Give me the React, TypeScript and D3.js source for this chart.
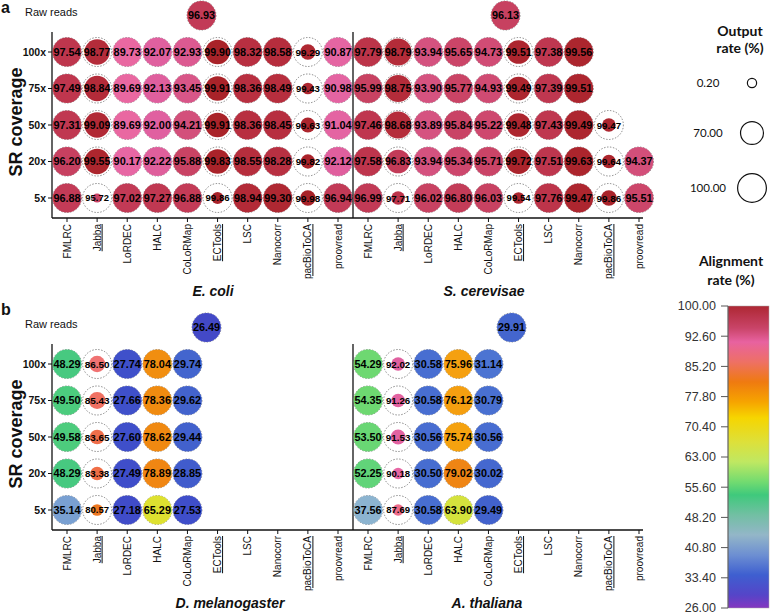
import React from 'react';
import * as d3 from 'd3';

// ---------- data ----------
const tools = ['FMLRC', 'Jabba', 'LoRDEC', 'HALC', 'CoLoRMap', 'ECTools', 'LSC', 'Nanocorr', 'pacBioToCA', 'proovread'];
const underlinedTools = ['Jabba', 'ECTools', 'pacBioToCA'];
const coverages = ['100x', '75x', '50x', '20x', '5x'];

const ecoliAlign = [
  [97.54, 98.77, 89.73, 92.07, 92.93, 99.90, 98.32, 98.58, 99.29, 90.87],
  [97.49, 98.84, 89.69, 92.13, 93.45, 99.91, 98.36, 98.49, 99.43, 90.98],
  [97.31, 99.09, 89.69, 92.00, 94.21, 99.91, 98.36, 98.45, 99.63, 91.04],
  [96.20, 99.55, 90.17, 92.22, 95.88, 99.83, 98.55, 98.28, 99.82, 92.12],
  [96.88, 95.72, 97.02, 97.27, 96.88, 99.86, 98.94, 99.30, 99.98, 96.94],
];
const ecoliOutput = [
  [100, 82, 100, 100, 100, 78, 100, 100, 31, 100],
  [100, 82, 100, 100, 100, 78, 100, 100, 13, 100],
  [100, 82, 100, 100, 100, 78, 100, 100, 29, 100],
  [100, 82, 100, 100, 100, 78, 100, 100, 26, 100],
  [100, 0.2, 100, 100, 100, 15, 100, 100, 31, 100],
];
const ecoliRaw = 96.93;

const scerAlign = [
  [97.79, 98.79, 93.94, 95.65, 94.73, 99.51, 97.38, 99.56, null, null],
  [95.99, 98.75, 93.90, 95.77, 94.93, 99.49, 97.39, 99.51, null, null],
  [97.46, 98.68, 93.89, 95.84, 95.22, 99.48, 97.43, 99.49, 99.47, null],
  [97.58, 96.83, 93.94, 95.34, 95.71, 99.72, 97.51, 99.63, 99.64, 94.37],
  [96.99, 97.71, 96.02, 96.80, 96.03, 99.54, 97.76, 99.47, 99.86, 95.51],
];
const scerOutput = [
  [100, 91, 100, 100, 100, 74, 100, 100, null, null],
  [100, 91, 100, 100, 100, 74, 100, 100, null, null],
  [100, 91, 100, 100, 100, 74, 100, 100, 23, null],
  [100, 74, 100, 100, 100, 80, 100, 100, 23, 100],
  [100, 23, 100, 100, 100, 13, 100, 100, 33, 100],
];
const scerRaw = 96.13;

const dmelAlign = [
  [48.29, 86.50, 27.74, 78.04, 29.74, null, null, null, null, null],
  [49.50, 85.43, 27.66, 78.36, 29.62, null, null, null, null, null],
  [49.58, 83.65, 27.60, 78.62, 29.44, null, null, null, null, null],
  [48.29, 83.38, 27.49, 78.89, 28.85, null, null, null, null, null],
  [35.14, 80.57, 27.18, 65.29, 27.53, null, null, null, null, null],
];
const dmelOutput = [
  [100, 36, 100, 100, 100, null, null, null, null, null],
  [100, 39, 100, 100, 100, null, null, null, null, null],
  [100, 28, 100, 100, 100, null, null, null, null, null],
  [100, 23, 100, 100, 100, null, null, null, null, null],
  [100, 13, 100, 100, 100, null, null, null, null, null],
];
const dmelRaw = 26.49;

const athaAlign = [
  [54.29, 92.02, 30.58, 75.96, 31.14, null, null, null, null, null],
  [54.35, 91.26, 30.58, 76.12, 30.79, null, null, null, null, null],
  [53.50, 91.53, 30.56, 75.74, 30.56, null, null, null, null, null],
  [52.25, 90.18, 30.50, 79.02, 30.02, null, null, null, null, null],
  [37.56, 87.69, 30.58, 63.90, 29.49, null, null, null, null, null],
];
const athaOutput = [
  [100, 23, 100, 100, 100, null, null, null, null, null],
  [100, 23, 100, 100, 100, null, null, null, null, null],
  [100, 29, 100, 100, 100, null, null, null, null, null],
  [100, 12, 100, 100, 100, null, null, null, null, null],
  [100, 12, 100, 100, 100, null, null, null, null, null],
];
const athaRaw = 29.91;

// colour of circles (alignment rate)
const colorStopValues = [26, 27.5, 29.5, 31, 35, 37.5, 42, 46, 48.5, 52, 54.5, 60, 64, 66, 71, 76, 78.5, 80.5, 83.5, 86.5, 88, 90, 92, 93, 94, 95, 96, 97, 98, 99, 100];
const colorStopColors = ['#4546c6', '#3f4eca', '#4262cd', '#4a72d2', '#789fd2', '#8cb4d0', '#8fbcc0', '#5cc590', '#45c97f', '#5fd47a', '#6fd870', '#b0e560', '#d6e23c', '#e2e02a', '#f5d000', '#f5a010', '#f08a10', '#ee7820', '#f06e48', '#f07272', '#ec6a90', '#e868a4', '#e060a0', '#dc5a90', '#d4527e', '#d04a72', '#c84262', '#c23a56', '#bb3246', '#b22a36', '#a82228'];

// colourbar gradient (as drawn in the legend)
const barStopValues = [100, 99.5, 94.6, 91.2, 86.3, 81.4, 76.5, 72.6, 66.7, 61.8, 56.9, 53.7, 48.8, 43.9, 39.0, 34.1, 29.2, 26];
const barStopColors = ['#ad2a36', '#b02a38', '#c94468', '#e862a0', '#ee7065', '#ef7a10', '#f6a400', '#f6d500', '#dde03a', '#bfe862', '#72db70', '#3fc97c', '#72bfa3', '#93b6c8', '#6d8fd2', '#3e5fd0', '#5545c8', '#8436c0'];

const alignTicks = [100, 92.6, 85.2, 77.8, 70.4, 63, 55.6, 48.2, 40.8, 33.4, 26];
const outputLegend = [0.2, 70, 100];

// ---------- layout ----------
const W = 770;
const H = 615;
const colX0 = [52, 353];
const rowY0 = [32, 344];
const PANEL_H = 186;
const FONT = '"Liberation Sans", Arial, Helvetica, sans-serif';
const LEG_FONT = 'Lato, "Open Sans", sans-serif';

const panels = [
  { name: 'E. coli', align: ecoliAlign, output: ecoliOutput, raw: ecoliRaw, col: 0, row: 0, titleX: 213, rawDx: -1 },
  { name: 'S. cerevisae', align: scerAlign, output: scerOutput, raw: scerRaw, col: 1, row: 0, titleX: 484, rawDx: 2 },
  { name: 'D. melanogaster', align: dmelAlign, output: dmelOutput, raw: dmelRaw, col: 0, row: 1, titleX: 230, rawDx: 4 },
  { name: 'A. thaliana', align: athaAlign, output: athaOutput, raw: athaRaw, col: 1, row: 1, titleX: 487, rawDx: 8 },
];

const rScale = d3.scaleLinear().domain([0, 100]).range([4.6, 14.4]);
const fScale = d3.scaleLinear().domain([0, 100]).range([9.4, 10.9]);
const color = d3
  .scaleLinear<string>()
  .domain(colorStopValues)
  .range(colorStopColors)
  .interpolate(d3.interpolateRgb)
  .clamp(true);
const RING = 14.5;

function Ring() {
  return <circle r={RING} fill="none" stroke="#555" strokeWidth={0.7} strokeDasharray="1.4,1.6" />;
}

function Panel({ p }: { p: (typeof panels)[number] }) {
  const x0 = colX0[p.col];
  const y0 = rowY0[p.row];
  const axisY = y0 + PANEL_H;
  const x = d3.scalePoint<string>().domain(tools).range([x0 + 15, x0 + 286]);
  const y = d3.scalePoint<string>().domain(coverages).range([y0 + 20, y0 + 166]);
  const axisEnd = p.col === 0 ? x0 + 301 : x0 + 290;
  const rawX = x0 + 150.5 + p.rawDx;
  const rawY = y0 - 16.5;
  const cells: any[] = [];
  coverages.forEach((cov, i) => {
    tools.forEach((t, j) => {
      const a = p.align[i][j];
      const o = p.output[i][j];
      if (a == null || o == null) return;
      cells.push({ cov, t, a, o });
    });
  });
  return (
    <g>
      {/* axes */}
      <line x1={x0} x2={x0} y1={y0} y2={axisY} stroke="#111" strokeWidth={1.3} />
      <line x1={x0} x2={axisEnd} y1={axisY} y2={axisY} stroke="#111" strokeWidth={1.3} />
      {tools.map((t) => (
        <g key={t} transform={`translate(${x(t)},${axisY})`}>
          <line y1={0} y2={4} stroke="#111" strokeWidth={1} />
          <text
            transform="translate(0,6) rotate(-90)"
            textAnchor="end"
            dy="0.35em"
            fontSize={10}
            fontFamily={FONT}
            fill="#111"
            style={underlinedTools.includes(t) ? { textDecoration: 'underline' } : undefined}
          >
            {t}
          </text>
        </g>
      ))}
      {p.col === 0 &&
        coverages.map((c) => (
          <g key={c} transform={`translate(${x0},${y(c)})`}>
            <line x1={-4} x2={0} stroke="#111" strokeWidth={1} />
            <text x={-6} dy="0.35em" textAnchor="end" fontSize={10.5} fontWeight="bold" fontFamily={FONT} fill="#111">
              {c}
            </text>
          </g>
        ))}
      {/* cells */}
      {cells.map((c) => (
        <g key={c.cov + c.t} transform={`translate(${x(c.t)},${y(c.cov)})`}>
          <Ring />
          <circle r={rScale(c.o)} fill={color(c.a)} />
          <text
            textAnchor="middle"
            dy="0.36em"
            fontSize={fScale(c.o)}
            fontWeight="bold"
            fontFamily={FONT}
            fill="#000"
          >
            {c.a.toFixed(2)}
          </text>
        </g>
      ))}
      {/* raw reads */}
      <g transform={`translate(${rawX},${rawY})`}>
        <Ring />
        <circle r={rScale(100)} fill={color(p.raw)} />
        <text textAnchor="middle" dy="0.36em" fontSize={10.9} fontWeight="bold" fontFamily={FONT} fill="#000">
          {p.raw.toFixed(2)}
        </text>
      </g>
      {/* title */}
      <text
        x={p.titleX}
        y={axisY + 78}
        textAnchor="middle"
        fontSize={14}
        fontWeight="bold"
        fontStyle="italic"
        fontFamily={FONT}
        fill="#111"
      >
        {p.name}
      </text>
    </g>
  );
}

export default function App() {
  const barY = d3.scaleLinear().domain([26, 100]).range([608, 306]);
  const rowLetters = ['a', 'b'];
  const letterY = [13, 315];
  const rawLabelY = [16, 328];
  const legendYs = [83, 133, 188];
  return (
    <svg
      width={W}
      height={H}
      style={{ position: 'absolute', left: 0, top: 0, background: '#fff' }}
      xmlns="http://www.w3.org/2000/svg"
    >
      <defs>
        <linearGradient id="alignGrad" x1="0" y1="0" x2="0" y2="1">
          {barStopValues.map((v, i) => (
            <stop key={i} offset={`${((100 - v) / 74) * 100}%`} stopColor={barStopColors[i]} />
          ))}
        </linearGradient>
      </defs>
      <rect width={W} height={H} fill="#fff" />
      {rowY0.map((y0, r) => (
        <g key={r}>
          <text x={1} y={letterY[r]} fontSize={16} fontWeight="bold" fontFamily={FONT} fill="#111">
            {rowLetters[r]}
          </text>
          <text x={25} y={rawLabelY[r]} fontSize={11} fontFamily={FONT} fill="#111">
            Raw reads
          </text>
          <text
            transform={`translate(22,${y0 + PANEL_H / 2 - 3}) rotate(-90)`}
            textAnchor="middle"
            fontSize={18}
            fontWeight="bold"
            fontFamily={FONT}
            fill="#111"
          >
            SR coverage
          </text>
        </g>
      ))}
      {panels.map((p) => (
        <Panel key={p.name} p={p} />
      ))}

      {/* Output rate legend */}
      <text x={740} y={36} textAnchor="middle" fontSize={14} fontWeight="bold" fontFamily={LEG_FONT} fill="#111">
        Output
      </text>
      <text x={740} y={53} textAnchor="middle" fontSize={14} fontWeight="bold" fontFamily={LEG_FONT} fill="#111">
        rate (%)
      </text>
      {outputLegend.map((v, i) => (
        <g key={v}>
          <text x={708} y={legendYs[i]} dy="0.35em" textAnchor="middle" fontSize={11.5} fontFamily={LEG_FONT} fill="#111">
            {v.toFixed(2)}
          </text>
          <circle cx={752} cy={legendYs[i]} r={rScale(v)} fill="none" stroke="#111" strokeWidth={1.2} />
        </g>
      ))}

      {/* Alignment rate colourbar */}
      <text x={731} y={266} textAnchor="middle" fontSize={14} fontWeight="bold" fontFamily={LEG_FONT} fill="#111">
        Alignment
      </text>
      <text x={731} y={285} textAnchor="middle" fontSize={14} fontWeight="bold" fontFamily={LEG_FONT} fill="#111">
        rate (%)
      </text>
      <rect x={728} y={barY(100)} width={41} height={barY(26) - barY(100)} fill="url(#alignGrad)" stroke="#aaa" strokeWidth={0.5} />
      <line x1={728} x2={728} y1={barY(100)} y2={barY(26)} stroke="#555" strokeWidth={1} />
      {alignTicks.map((t) => (
        <g key={t} transform={`translate(0,${barY(t)})`}>
          <line x1={721} x2={728} stroke="#555" strokeWidth={1} />
          <text x={716} dy="0.35em" textAnchor="end" fontSize={12.5} fontFamily={FONT} fill="#333">
            {t.toFixed(2)}
          </text>
        </g>
      ))}
    </svg>
  );
}
